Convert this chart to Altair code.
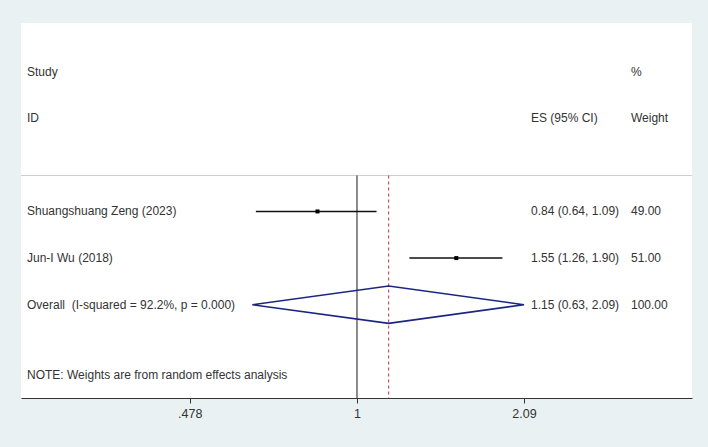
import altair as alt
import pandas as pd

# ---- data ----
studies = ["Shuangshuang Zeng (2023)", "Jun-I Wu (2018)"]
es = [0.84, 1.55]
lo = [0.64, 1.26]
hi = [1.09, 1.90]
weights = ["49.00", "51.00"]
rows = [1, 2]

overall_label = "Overall\u00a0 (I-squared = 92.2%, p = 0.000)"
overall_es, overall_lo, overall_hi = 1.15, 0.63, 2.09
overall_weight = "100.00"
overall_row = 3

note_text = "NOTE: Weights are from random effects analysis"
note_row = 4.5

tick_values = [0.478, 1, 2.09]
tick_labels = [".478", "1", "2.09"]

x_domain = [0.227, 4.386]
y_domain = [-3.04, 5.0]
sep_row = 0.23
half_h = 0.4

W, H = 671, 375
FONT = "Liberation Sans"
TXT = "#333333"

label_expr = " : ".join(
    [f"datum.value == {v} ? '{l}'" for v, l in zip(tick_values, tick_labels)] + ["''"]
)

xs = alt.Scale(type="log", domain=x_domain, nice=False, zero=False)
ys = alt.Scale(domain=y_domain, reverse=True, nice=False, zero=False)

X = lambda f, **kw: alt.X(f, scale=xs, **kw)
Y = lambda f: alt.Y(f, scale=ys, axis=None)

study_df = pd.DataFrame({
    "study": studies, "es": es, "lo": lo, "hi": hi, "w": weights, "row": rows,
})
study_df["estxt"] = [f"{e:.2f} ({l:.2f}, {h:.2f})" for e, l, h in zip(es, lo, hi)]

# axis carrier (invisible points) to draw the x axis
axis_layer = alt.Chart(pd.DataFrame({"v": tick_values})).mark_point(opacity=0).encode(
    x=alt.X("v:Q", scale=xs,
            axis=alt.Axis(values=tick_values, labelExpr=label_expr, title=None,
                          grid=False, domainColor="#333333", tickColor="#333333",
                          tickSize=5, labelFontSize=12.5, labelColor=TXT,
                          labelFont=FONT, labelPadding=4, domainWidth=1.2)),
    y=alt.Y("v:Q", scale=ys, axis=None),
)

sep = alt.Chart(pd.DataFrame({"r": [sep_row]})).mark_rule(color="#cfcfcf", strokeWidth=1).encode(
    x=alt.value(0), x2=alt.value(W), y=Y("r:Q"),
)

vlines = pd.DataFrame({"x": [1.0, overall_es], "y1": [sep_row, sep_row], "y2": [y_domain[1]] * 2,
                       "kind": ["null", "overall"]})
null_line = alt.Chart(vlines[vlines.kind == "null"]).mark_rule(color="#1a1a1a", strokeWidth=1).encode(
    x=X("x:Q"), y=Y("y1:Q"), y2="y2:Q",
)
ov_line = alt.Chart(vlines[vlines.kind == "overall"]).mark_rule(
    color="#b2334a", strokeWidth=1, strokeDash=[3, 3]).encode(
    x=X("x:Q"), y=Y("y1:Q"), y2="y2:Q",
)

ci = alt.Chart(study_df).mark_rule(color="#111111", strokeWidth=1.5).encode(
    x=X("lo:Q"), x2="hi:Q", y=Y("row:Q"),
)
pts = alt.Chart(study_df).mark_square(color="#000000", size=16, opacity=1).encode(
    x=X("es:Q"), y=Y("row:Q"),
)

diamond_df = pd.DataFrame({
    "x": [overall_lo, overall_es, overall_hi, overall_es, overall_lo],
    "y": [overall_row, overall_row - half_h, overall_row, overall_row + half_h, overall_row],
    "o": [0, 1, 2, 3, 4],
})
diamond = alt.Chart(diamond_df).mark_line(color="#1c2680", strokeWidth=1.6).encode(
    x=X("x:Q"), y=Y("y:Q"), order="o:Q",
)

txt_kw = dict(align="left", baseline="middle", font=FONT, fontSize=12, color=TXT)

left_df = pd.DataFrame({
    "t": ["Study", "ID"] + studies + [overall_label, note_text],
    "row": [-2, -1] + rows + [overall_row, note_row],
})
left_txt = alt.Chart(left_df).mark_text(**txt_kw).encode(
    x=alt.value(6), y=Y("row:Q"), text="t:N",
)

es_df = pd.DataFrame({
    "t": ["ES (95% CI)"] + list(study_df["estxt"]) +
         [f"{overall_es:.2f} ({overall_lo:.2f}, {overall_hi:.2f})"],
    "row": [-1] + rows + [overall_row],
})
es_txt = alt.Chart(es_df).mark_text(**txt_kw).encode(
    x=alt.value(510), y=Y("row:Q"), text="t:N",
)

w_df = pd.DataFrame({
    "t": ["%", "Weight"] + weights + [overall_weight],
    "row": [-2, -1] + rows + [overall_row],
})
w_txt = alt.Chart(w_df).mark_text(**txt_kw).encode(
    x=alt.value(610), y=Y("row:Q"), text="t:N",
)

chart = alt.layer(
    axis_layer, sep, null_line, ov_line, ci, pts, diamond, left_txt, es_txt, w_txt
).properties(
    width=W, height=H,
    padding={"left": 21, "top": 23, "right": 16, "bottom": 49},
    autosize=alt.AutoSizeParams(type="none"),
    background="#eaf1f3",
).configure_view(
    fill="#ffffff", strokeWidth=0,
)

chart.save("out.html", embed_options={"renderer": "svg", "actions": False})
